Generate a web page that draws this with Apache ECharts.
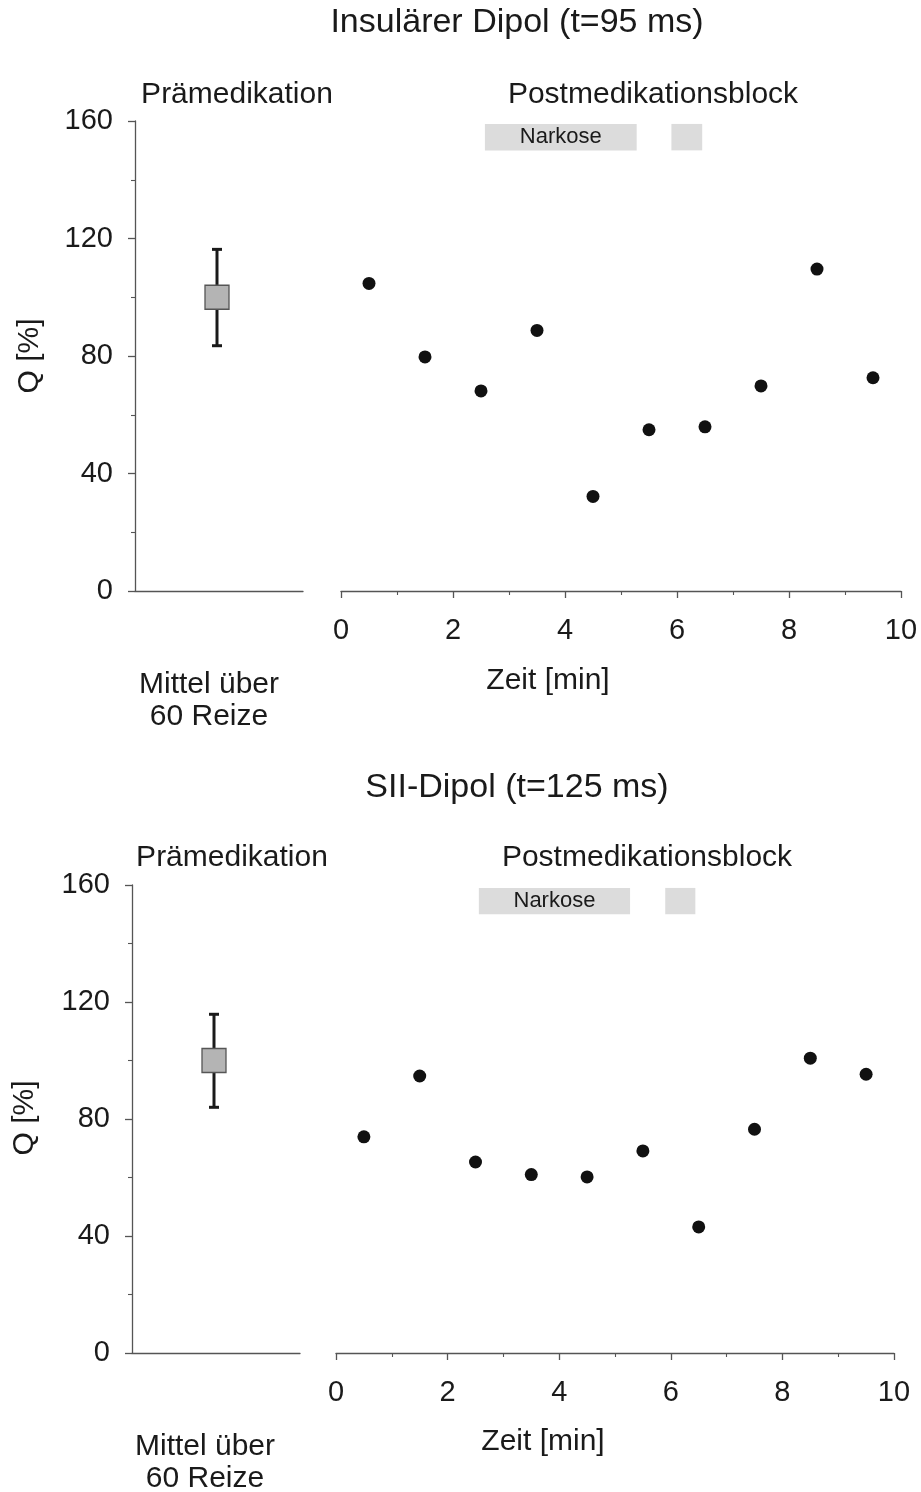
<!DOCTYPE html>
<html>
<head>
<meta charset="utf-8">
<script src="https://cdn.jsdelivr.net/npm/echarts@6/dist/echarts.min.js"></script>
<style>
html,body{margin:0;padding:0;background:#fff;}
#chart{width:921px;height:1492px;}
</style>
</head>
<body>
<div id="chart"></div>
<script>
// ---- data ----
const times = [0.5, 1.5, 2.5, 3.5, 4.5, 5.5, 6.5, 7.5, 8.5, 9.5];
const insularValues = [104.7, 79.7, 68.1, 88.7, 32.2, 54.9, 55.9, 69.8, 109.6, 72.6];
const siiValues = [73.9, 94.7, 65.3, 61.0, 60.2, 69.1, 43.1, 76.5, 100.8, 95.3];
const preCategory = ['Prämedikation'];
const insularPre = [100, 83.5, 116.3];   // mean, low, high
const siiPre = [100, 84.0, 115.8];
const narkoseTop = [[2.57, 5.28], [5.9, 6.45]];
const narkoseBottom = [[2.56, 5.27], [5.9, 6.44]];
const narkoseY = [150, 159];
const yTicks = [0, 40, 80, 120, 160];
const xTicks = [0, 2, 4, 6, 8, 10];

const FONT = '"Liberation Sans", Arial, sans-serif';
const TXT = '#1a1a1a';
const AX = '#555';

function leftY(gi) {
  return {
    gridIndex: gi, type: 'value', min: yTicks[0], max: yTicks[yTicks.length - 1], interval: 40,
    axisLine: {show: true, lineStyle: {color: AX, width: 1.3}},
    axisTick: {show: true, length: 7, lineStyle: {color: AX, width: 1.3}},
    minorTick: {show: true, splitNumber: 2, length: 4, lineStyle: {color: AX, width: 1.1}},
    splitLine: {show: false},
    axisLabel: {color: TXT, fontSize: 29, fontFamily: FONT, margin: 22}
  };
}
function hiddenY(gi) {
  return {gridIndex: gi, type: 'value', min: yTicks[0], max: yTicks[yTicks.length - 1], show: false};
}
function catX(gi) {
  return {
    gridIndex: gi, type: 'category', data: preCategory,
    axisLine: {show: true, lineStyle: {color: AX, width: 1.3}},
    axisTick: {show: false}, axisLabel: {show: false}, splitLine: {show: false}
  };
}
function timeX(gi) {
  return {
    gridIndex: gi, type: 'value', min: xTicks[0], max: xTicks[xTicks.length - 1], interval: 2,
    axisLine: {show: true, onZero: false, lineStyle: {color: AX, width: 1.3}},
    axisTick: {show: true, length: 7, lineStyle: {color: AX, width: 1.3}},
    minorTick: {show: true, splitNumber: 2, length: 4, lineStyle: {color: AX, width: 1.1}},
    splitLine: {show: false},
    axisLabel: {color: TXT, fontSize: 29, fontFamily: FONT, margin: 25}
  };
}

function renderErr(params, api) {
  const m = api.value(1), lo = api.value(2), hi = api.value(3);
  const pm = api.coord([api.value(0), m]);
  const pl = api.coord([api.value(0), lo]);
  const ph = api.coord([api.value(0), hi]);
  const x = pm[0] - 2;
  const cap = 5, half = 12;
  const ls = {stroke: '#1a1a1a', lineWidth: 3};
  return {
    type: 'group', children: [
      {type: 'line', shape: {x1: x, y1: pl[1], x2: x, y2: ph[1]}, style: ls},
      {type: 'line', shape: {x1: x - cap, y1: pl[1], x2: x + cap, y2: pl[1]}, style: ls},
      {type: 'line', shape: {x1: x - cap, y1: ph[1], x2: x + cap, y2: ph[1]}, style: ls},
      {type: 'rect', shape: {x: x - half, y: pm[1] - half, width: 2 * half, height: 2 * half},
       style: {fill: '#b4b4b4', stroke: '#555', lineWidth: 1.3}}
    ]
  };
}

function narkoseArea(bars) {
  return {
    silent: true,
    itemStyle: {color: '#dcdcdc'},
    label: {show: true, position: 'inside', color: TXT, fontSize: 22, fontFamily: FONT},
    data: bars.map((b, i) => [
      {name: i === 0 ? 'Narkose' : '', xAxis: b[0], yAxis: narkoseY[0]},
      {xAxis: b[1], yAxis: narkoseY[1]}
    ])
  };
}

function txt(x, y, text, size, extra) {
  return Object.assign({
    type: 'text', x: x, y: y,
    style: {text: text, fill: TXT, font: size + 'px ' + FONT, align: 'center', verticalAlign: 'middle', lineHeight: 32}
  }, extra || {});
}

const dotStyle = {color: '#111', opacity: 1};

const chart = echarts.init(document.getElementById('chart'));
chart.setOption({
  animation: false,
  backgroundColor: '#fff',
  grid: [
    {left: 135, top: 121, width: 168, height: 470},
    {left: 341, top: 121, width: 560, height: 470},
    {left: 132, top: 885, width: 168, height: 468},
    {left: 336, top: 885, width: 558, height: 468}
  ],
  xAxis: [catX(0), timeX(1), catX(2), timeX(3)],
  yAxis: [leftY(0), hiddenY(1), leftY(2), hiddenY(3)],
  series: [
    {type: 'custom', xAxisIndex: 0, yAxisIndex: 0, renderItem: renderErr, clip: false,
     data: [[0, insularPre[0], insularPre[1], insularPre[2]]]},
    {type: 'scatter', xAxisIndex: 1, yAxisIndex: 1, symbol: 'circle', symbolSize: 13,
     itemStyle: dotStyle, data: times.map((t, i) => [t, insularValues[i]]),
     markArea: narkoseArea(narkoseTop)},
    {type: 'custom', xAxisIndex: 2, yAxisIndex: 2, renderItem: renderErr, clip: false,
     data: [[0, siiPre[0], siiPre[1], siiPre[2]]]},
    {type: 'scatter', xAxisIndex: 3, yAxisIndex: 3, symbol: 'circle', symbolSize: 13,
     itemStyle: dotStyle, data: times.map((t, i) => [t, siiValues[i]]),
     markArea: narkoseArea(narkoseBottom)}
  ],
  graphic: [
    txt(517, 23, 'Insulärer Dipol (t=95 ms)', 34),
    txt(237, 95, 'Prämedikation', 30),
    txt(653, 95, 'Postmedikationsblock', 30),
    txt(30, 356, 'Q [%]', 30, {rotation: Math.PI / 2}),
    txt(548, 681, 'Zeit [min]', 30),
    txt(209, 701, 'Mittel über\n60 Reize', 30),
    txt(517, 788, 'SII-Dipol (t=125 ms)', 34),
    txt(232, 858, 'Prämedikation', 30),
    txt(647, 858, 'Postmedikationsblock', 30),
    txt(25, 1118, 'Q [%]', 30, {rotation: Math.PI / 2}),
    txt(543, 1442, 'Zeit [min]', 30),
    txt(205, 1463, 'Mittel über\n60 Reize', 30)
  ]
});
</script>
</body>
</html>
